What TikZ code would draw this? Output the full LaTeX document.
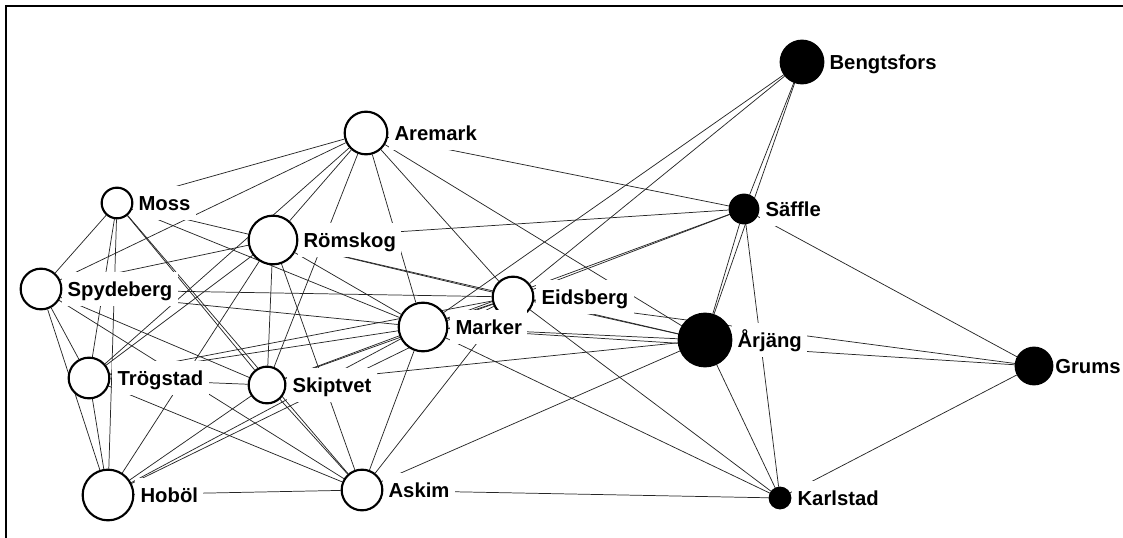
\documentclass[tikz,border=0pt]{standalone}
\usepackage{fontspec}
\setmainfont{Liberation Sans}
\usetikzlibrary{positioning, backgrounds}

\begin{document}
\begin{tikzpicture}[x=0.75pt, y=-0.75pt,
    town/.style={circle, draw=black, line width=1.6pt, inner sep=0pt},
    lbl/.style={fill=white, inner sep=4pt, text height=14pt, text depth=3pt,
      anchor=west, font=\fontsize{15.2}{18}\selectfont\bfseries},
    link/.style={draw=black!85, line width=0.55pt}]
  \useasboundingbox (0,0) rectangle (1123,538);

  % Frame
  \draw[line width=1.5pt] (6,538) -- (6,6) -- (1123,6);

  % Towns (label first, so the circle stays on top of its box)
  \foreach \id/\x/\y/\r/\fc/\g/\txt in {
      aremark/366/133/22/white/0.75/Aremark, moss/117/203/16/white/0/Moss,
      romskog/273/240/25/white/0/Römskog, spydeberg/41/289/21/white/0/Spydeberg,
      eidsberg/513/297/21/white/1.5/Eidsberg, marker/423/327/25/white/1.5/Marker,
      trogstad/89/378/21/white/1.5/Trögstad, skiptvet/267/385/19/white/0.75/Skiptvet,
      hobol/108/495/26/white/0.75/Hoböl, askim/362/490/21/white/0/Askim,
      arjang/705/340/27/black/0/Årjäng, grums/1034/366/19/black/-2.5/Grums,
      karlstad/780/498/11/black/0.75/Karlstad, saffle/744/209/15/black/0.75/Säffle,
      bengtsfors/802/62/22/black/0/Bengtsfors} {
    \node[lbl, xshift={0.75*\r*1pt+\g*1pt}] (\id-l) at (\x,\y) {\txt};
    \node[town, fill=\fc, minimum size={1.5*\r*1pt-1pt}] (\id) at (\x,\y) {};
  }

  % Links
  \begin{scope}[on background layer]
    \foreach \a/\targets in {
        aremark/{moss,spydeberg,trogstad,romskog,skiptvet,marker,eidsberg,arjang,saffle},
        moss/{spydeberg,trogstad,hobol,skiptvet,askim,romskog,marker},
        spydeberg/{romskog,eidsberg,marker,trogstad,hobol,skiptvet,askim},
        trogstad/{romskog,skiptvet,marker,eidsberg,hobol,askim},
        hobol/{romskog,skiptvet,marker,eidsberg,askim},
        skiptvet/{romskog,askim,marker,eidsberg,arjang},
        romskog/{askim,marker,eidsberg,arjang,saffle},
        marker/{eidsberg,askim,bengtsfors,saffle,arjang,karlstad,grums},
        eidsberg/{askim,bengtsfors,saffle,arjang,karlstad,grums},
        saffle/{bengtsfors,arjang,karlstad,grums},
        bengtsfors/{arjang},
        arjang/{askim,karlstad},
        askim/{karlstad},
        karlstad/{grums}}
      \foreach \b in \targets
        \draw[link] (\a) -- (\b);
  \end{scope}
\end{tikzpicture}
\end{document}
